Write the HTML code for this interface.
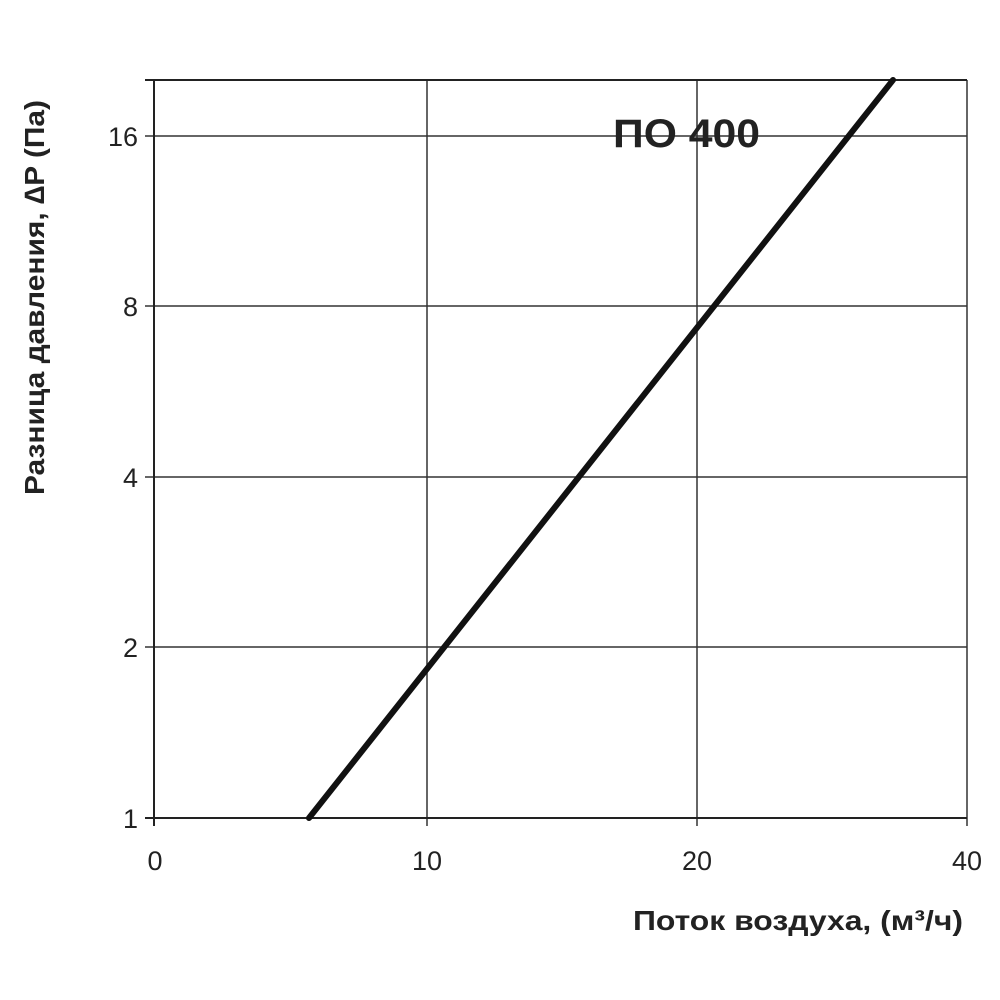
<!DOCTYPE html>
<html><head><meta charset="utf-8"><style>
html,body{margin:0;padding:0;background:#fff;}
svg{display:block;}
text{font-family:"Liberation Sans","DejaVu Sans",sans-serif;fill:#222;}
</style></head><body>
<svg width="1000" height="1000" viewBox="0 0 1000 1000">
<g stroke="#333" stroke-width="1.5" fill="none">
<line x1="427" y1="80" x2="427" y2="826"/>
<line x1="697" y1="80" x2="697" y2="826"/>
<line x1="967" y1="80" x2="967" y2="826"/>
<line x1="145" y1="136" x2="967" y2="136"/>
<line x1="145" y1="306" x2="967" y2="306"/>
<line x1="145" y1="477" x2="967" y2="477"/>
<line x1="145" y1="647" x2="967" y2="647"/>
</g>
<g stroke="#222" stroke-width="2" fill="none">
<line x1="145" y1="80" x2="967" y2="80"/>
<line x1="145" y1="818" x2="967" y2="818"/>
<line x1="154" y1="80" x2="154" y2="826"/>
</g>
<line x1="309" y1="818" x2="893" y2="80" stroke="#111" stroke-width="6" stroke-linecap="round"/>
<g font-size="27" text-anchor="end">
<text x="138" y="146">16</text>
<text x="138" y="316">8</text>
<text x="138" y="487">4</text>
<text x="138" y="657">2</text>
<text x="138" y="828">1</text>
</g>
<g font-size="27" text-anchor="middle">
<text x="155" y="870">0</text>
<text x="427" y="870">10</text>
<text x="697" y="870">20</text>
<text x="967" y="870">40</text>
</g>
<text x="613" y="147" font-size="40" font-weight="bold" textLength="147" lengthAdjust="spacingAndGlyphs">ПО 400</text>
<text x="633" y="930" font-size="28" font-weight="bold" textLength="330" lengthAdjust="spacingAndGlyphs">Поток воздуха, (м³/ч)</text>
<text transform="translate(44,495) rotate(-90)" font-size="28" font-weight="bold" textLength="395" lengthAdjust="spacingAndGlyphs">Разница давления, ∆P (Па)</text>
</svg>
</body></html>
